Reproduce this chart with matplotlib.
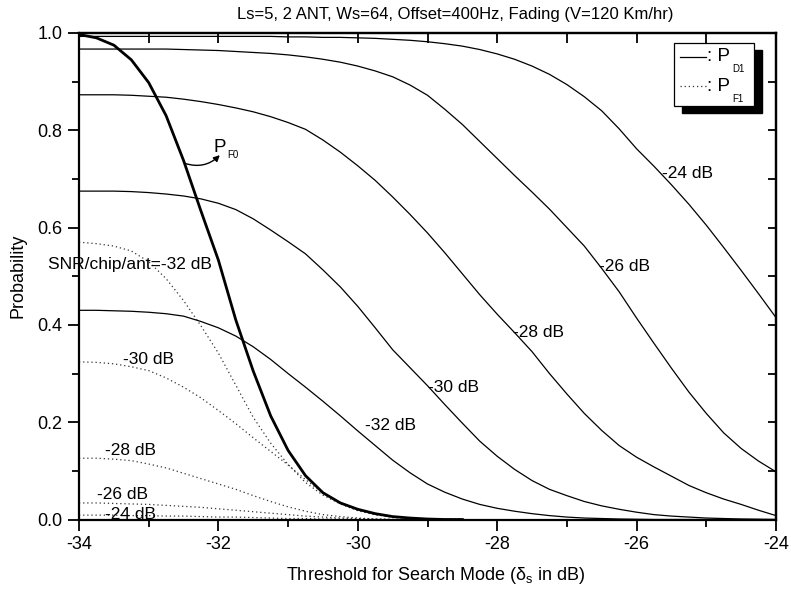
import numpy as np
import matplotlib
matplotlib.use("Agg")
import matplotlib.pyplot as plt
from matplotlib.ticker import MultipleLocator, FormatStrFormatter
from matplotlib.patches import Rectangle
from matplotlib.lines import Line2D

plt.rcParams['font.family'] = ['Liberation Sans', 'DejaVu Sans']
plt.rcParams['axes.unicode_minus'] = False
plt.rcParams['mathtext.fontset'] = 'custom'
plt.rcParams['mathtext.rm'] = 'Liberation Sans'
plt.rcParams['mathtext.it'] = 'Liberation Sans'

# ---------------- data ----------------
title = "Ls=5, 2 ANT, Ws=64, Offset=400Hz, Fading (V=120 Km/hr)"
snr_labels = ["-24 dB", "-26 dB", "-28 dB", "-30 dB", "-32 dB"]

# threshold grid for detection curves (P_D1), -34 ... -24 dB
thr_d = np.arange(-34.0, -23.99, 0.25)
pd1_m24 = [0.993, 0.993, 0.993, 0.993, 0.993, 0.993, 0.993, 0.993, 0.993, 0.993, 0.993,
           0.993, 0.992, 0.992, 0.991, 0.991, 0.990, 0.989, 0.987, 0.985, 0.982,
           0.978, 0.973, 0.966, 0.957, 0.946, 0.932, 0.915, 0.894, 0.869, 0.840,
           0.803, 0.762, 0.726, 0.688, 0.648, 0.605, 0.559, 0.512, 0.464, 0.415]
pd1_m26 = [0.967, 0.967, 0.967, 0.967, 0.967, 0.967, 0.966, 0.965, 0.964, 0.962,
           0.960, 0.958, 0.955, 0.951, 0.946, 0.940, 0.932, 0.922, 0.910, 0.893,
           0.872, 0.843, 0.812, 0.777, 0.742, 0.707, 0.673, 0.638, 0.600, 0.562,
           0.516, 0.468, 0.414, 0.362, 0.311, 0.262, 0.218, 0.178, 0.146, 0.120, 0.098]
pd1_m28 = [0.873, 0.873, 0.873, 0.872, 0.870, 0.868, 0.864, 0.859, 0.853, 0.846,
           0.838, 0.828, 0.816, 0.802, 0.780, 0.755, 0.727, 0.697, 0.663, 0.627,
           0.589, 0.548, 0.505, 0.462, 0.422, 0.384, 0.345, 0.300, 0.258, 0.218,
           0.183, 0.152, 0.128, 0.108, 0.089, 0.070, 0.055, 0.042, 0.031, 0.019, 0.008]
pd1_m30 = [0.675, 0.675, 0.675, 0.674, 0.672, 0.669, 0.665, 0.659, 0.650, 0.637,
           0.618, 0.595, 0.571, 0.546, 0.513, 0.478, 0.438, 0.394, 0.349, 0.312,
           0.275, 0.236, 0.198, 0.161, 0.130, 0.103, 0.080, 0.062, 0.049, 0.037,
           0.028, 0.021, 0.015, 0.010, 0.007, 0.005, 0.003, 0.002, 0.001, 0.0005, 0.0]
pd1_m32 = [0.430, 0.430, 0.429, 0.428, 0.426, 0.423, 0.418, 0.407, 0.394, 0.377,
           0.355, 0.329, 0.300, 0.272, 0.243, 0.213, 0.182, 0.152, 0.122, 0.096,
           0.073, 0.056, 0.042, 0.031, 0.023, 0.017, 0.012, 0.008, 0.005, 0.003,
           0.002, 0.001, 0.0005, 0.0, 0.0, 0.0, 0.0, 0.0, 0.0, 0.0, 0.0]

# threshold grid for false alarm curves (P_F0, P_F1), -34 ... -28.5 dB
thr_f = np.arange(-34.0, -28.49, 0.25)
pf0 = [0.997, 0.990, 0.975, 0.945, 0.898, 0.830, 0.738, 0.634, 0.533, 0.410, 0.305, 0.213,
       0.142, 0.090, 0.055, 0.034, 0.021, 0.012, 0.006, 0.003, 0.001, 0.000, 0.000]
pf1_m32 = [0.570, 0.567, 0.562, 0.552, 0.530, 0.495, 0.450, 0.398, 0.342, 0.276, 0.210, 0.157,
           0.113, 0.076, 0.050, 0.032, 0.018, 0.010, 0.005, 0.002, 0.001, 0.000, 0.000]
pf1_m30 = [0.324, 0.323, 0.320, 0.314, 0.306, 0.291, 0.272, 0.250, 0.224, 0.197, 0.168, 0.140,
           0.112, 0.082, 0.054, 0.034, 0.019, 0.010, 0.005, 0.002, 0.001, 0.000, 0.000]
pf1_m28 = [0.126, 0.126, 0.124, 0.121, 0.114, 0.106, 0.095, 0.084, 0.073, 0.062, 0.049, 0.037,
           0.026, 0.017, 0.010, 0.006, 0.003, 0.001, 0.000, 0.000, 0.000, 0.000, 0.000]
pf1_m26 = [0.034, 0.034, 0.033, 0.032, 0.031, 0.029, 0.027, 0.025, 0.022, 0.019, 0.016, 0.013,
           0.010, 0.007, 0.005, 0.003, 0.002, 0.001, 0.000, 0.000, 0.000, 0.000, 0.000]
pf1_m24 = [0.009, 0.009, 0.009, 0.008, 0.008, 0.007, 0.007, 0.006, 0.005, 0.005, 0.004, 0.003,
           0.002, 0.002, 0.001, 0.001, 0.000, 0.000, 0.000, 0.000, 0.000, 0.000, 0.000]

# label anchor points (data coords, left/baseline)
pd1_label_xy = [(-25.63, 0.702), (-26.54, 0.511), (-27.78, 0.376), (-28.99, 0.262), (-29.90, 0.184)]
pf1_label_xy = [(-33.63, 0.001), (-33.74, 0.0425), (-33.63, 0.132), (-33.37, 0.319)]

# ---------------- figure ----------------
fig = plt.figure(figsize=(7.91, 5.89), dpi=100)
ax = fig.add_axes([79 / 791, (589 - 519.5) / 589, 697 / 791, 486.5 / 589])

for y in [pd1_m24, pd1_m26, pd1_m28, pd1_m30, pd1_m32]:
    ax.plot(thr_d, y, color='black', lw=0.9)
for y in [pf1_m32, pf1_m30, pf1_m28, pf1_m26, pf1_m24]:
    ax.plot(thr_f, y, color='#333333', lw=0.9, linestyle=(0, (1, 2.3)))
ax.plot(thr_f, pf0, color='black', lw=2.0)

ax.set_xlim(-34, -24)
ax.set_ylim(0, 1.0)
ax.xaxis.set_major_locator(MultipleLocator(2))
ax.xaxis.set_minor_locator(MultipleLocator(1))
ax.yaxis.set_major_locator(MultipleLocator(0.2))
ax.yaxis.set_minor_locator(MultipleLocator(0.1))
ax.yaxis.set_major_formatter(FormatStrFormatter('%.1f'))
ax.xaxis.set_major_formatter(FormatStrFormatter('%d'))
ax.tick_params(which='major', direction='out', length=8, width=1.3, labelsize=13, pad=4,
               top=False, right=False)
ax.tick_params(which='minor', direction='out', length=5, width=1.3, top=False, right=False)
for s in ax.spines.values():
    s.set_linewidth(1.6)

secx = ax.secondary_xaxis('top')
secx.xaxis.set_major_locator(MultipleLocator(2))
secx.xaxis.set_minor_locator(MultipleLocator(1))
secx.tick_params(which='both', direction='in', length=7, width=1.3, labeltop=False)
secx.spines['top'].set_linewidth(1.6)
secy = ax.secondary_yaxis('right')
secy.yaxis.set_major_locator(MultipleLocator(0.2))
secy.yaxis.set_minor_locator(MultipleLocator(0.1))
secy.tick_params(which='both', direction='in', length=6, width=1.3, labelright=False)
secy.spines['right'].set_linewidth(1.6)

ax.set_xlabel(r'Threshold for Search Mode ($\mathregular{δ_s}$ in dB)', fontsize=13)
ax.set_ylabel('Probability', fontsize=13)
ax.xaxis.set_label_coords(0.511, -0.093)
ax.yaxis.set_label_coords(-0.075, 0.5)
fig.text(455 / 791, 1 - 15 / 589, title, ha='center', va='center', fontsize=12)

# curve labels
for lab, (x, y) in zip(snr_labels, pd1_label_xy):
    ax.text(x, y, lab, fontsize=12.5, ha='left', va='baseline')
for lab, (x, y) in zip(snr_labels[:4], pf1_label_xy):
    ax.text(x, y, lab, fontsize=12.5, ha='left', va='baseline')
ax.text(-32.10, 0.515, 'SNR/chip/ant=-32 dB', fontsize=12.5, ha='right', va='baseline')

# P_F0 annotation
ax.text(-32.065, 0.756, 'P', fontsize=13.5, ha='left', va='baseline')
ax.text(-31.88, 0.7437, 'F0', fontsize=7, ha='left', va='baseline')
ax.annotate('', xy=(-31.98, 0.749), xytext=(-32.48, 0.732),
            arrowprops=dict(arrowstyle='-|>', connectionstyle='arc3,rad=0.3',
                            color='black', lw=1.0, mutation_scale=9, shrinkA=0, shrinkB=0))

# legend (manual, with shadow)
bx0, bx1, by0, by1 = 0.8537, 0.9684, 0.850, 0.980
ax.add_patch(Rectangle((bx0 + 0.0115, by0 - 0.0144), bx1 - bx0, by1 - by0,
                       transform=ax.transAxes, facecolor='black', edgecolor='black',
                       zorder=5, clip_on=False))
ax.add_patch(Rectangle((bx0, by0), bx1 - bx0, by1 - by0, transform=ax.transAxes,
                       facecolor='white', edgecolor='black', lw=0.9, zorder=6, clip_on=False))
ax.add_line(Line2D([0.8623, 0.8996], [0.950, 0.950], transform=ax.transAxes,
                   color='black', lw=0.9, zorder=7))
ax.add_line(Line2D([0.8623, 0.8996], [0.891, 0.891], transform=ax.transAxes,
                   color='#333333', lw=0.9, linestyle=(0, (1, 2.3)), zorder=7))
ax.text(0.901, 0.9425, ': P', transform=ax.transAxes, fontsize=13.5, ha='left',
        va='baseline', zorder=8)
ax.text(0.9369, 0.9198, 'D1', transform=ax.transAxes, fontsize=7, ha='left',
        va='baseline', zorder=8)
ax.text(0.901, 0.8798, ': P', transform=ax.transAxes, fontsize=13.5, ha='left',
        va='baseline', zorder=8)
ax.text(0.9369, 0.859, 'F1', transform=ax.transAxes, fontsize=7, ha='left',
        va='baseline', zorder=8)

fig.savefig('out.png', dpi=100)
